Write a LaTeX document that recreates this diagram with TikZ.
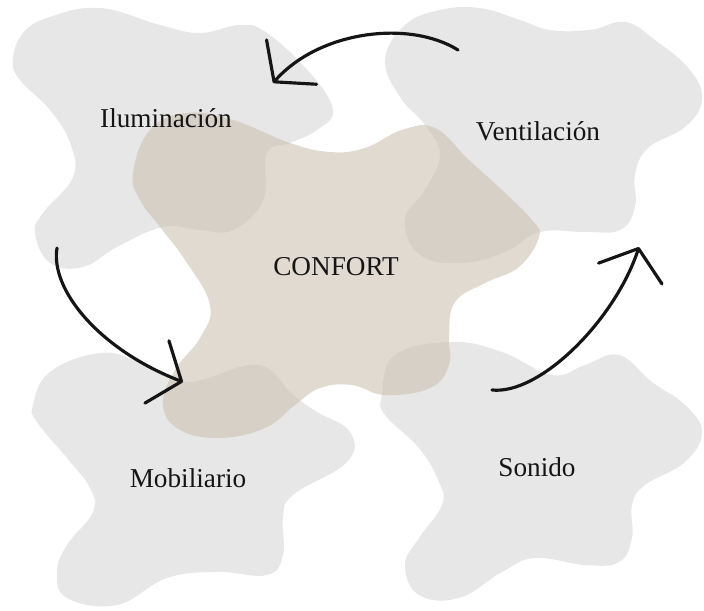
\documentclass[tikz,border=0pt]{standalone}
\usepackage{fontspec}
\setmainfont{Liberation Serif}
\usetikzlibrary{arrows.meta}
\definecolor[named]{BlobGrey}{HTML}{E7E7E7}
\definecolor[named]{BlobSand}{HTML}{CBC1B2}
\definecolor[named]{InkBlack}{HTML}{151515}
\tikzset{
  blob/.style={fill=BlobGrey, draw=none},
  core/.style={fill=BlobSand, fill opacity=0.6, draw=none},
  blobtext/.style={anchor=base, text=InkBlack, font=\fontsize{15.5}{18}\selectfont},
  sweep/.style={InkBlack, line width=1.8pt, line cap=round,
    -{Straight Barb[length=15pt,width=38pt,round]}},
}

\begin{document}
\begin{tikzpicture}[x=0.02cm,y=-0.02cm]
      \useasboundingbox (0,0) rectangle (704,611);
      % grey blobs
      \draw[blob] plot[smooth cycle, tension=0.7] coordinates {
        (13,60) (23,33) (50,17) (100,8) (160,25) (200,33) (240,25) (267,33)
        (310,73) (333,110) (317,130) (290,143) (267,153) (263,200) (233,230)
        (200,230) (163,227) (117,247) (83,267) (50,263) (35,233) (43,213)
        (73,177) (70,143) (50,110) (20,80)};
      \draw[blob] plot[smooth cycle, tension=0.7] coordinates {
        (385,60) (405,25) (440,10) (480,8) (520,20) (550,30) (590,30) (625,22)
        (655,40) (690,70) (702,100) (685,127) (648,148) (635,175) (635,207)
        (620,230) (585,232) (540,232) (505,252) (462,263) (420,255) (405,220)
        (425,190) (440,155) (425,125) (400,97)};
      \draw[blob] plot[smooth cycle, tension=0.7] coordinates {
        (33,405) (50,372) (100,353) (140,362) (187,382) (257,365) (293,395)
        (317,412) (350,432) (347,462) (293,495) (283,518) (283,555) (267,575)
        (217,572) (167,578) (117,605) (67,598) (57,572) (67,545) (93,512)
        (90,488) (67,458) (37,422)};
      \draw[blob] plot[smooth cycle, tension=0.7] coordinates {
        (382,395) (395,355) (452,342) (502,352) (552,375) (585,365) (619,355)
        (652,382) (685,405) (702,432) (685,462) (645,485) (632,505) (632,538)
        (619,562) (585,565) (535,558) (502,572) (459,598) (419,595) (405,565)
        (419,538) (442,505) (439,482) (419,448) (385,415)};
      % centre blob
      \draw[core] plot[smooth cycle, tension=0.7] coordinates {
        (133,173) (150,130) (187,113) (233,120) (290,143) (330,152) (365,148)
        (402,130) (435,128) (469,160) (502,190) (532,220) (539,237) (519,267)
        (485,283) (455,302) (449,335) (449,365) (430,388) (385,395) (352,385)
        (320,388) (295,405) (265,428) (220,438) (180,430) (163,405) (175,370)
        (200,338) (210,305) (185,260) (160,227) (140,200)};

      \node[blobtext] (ilum) at (166,128) {Iluminación};
      \node[blobtext] (vent) at (538,141) {Ventilación};
      \node[blobtext] (conf) at (336,276) {CONFORT};
      \node[blobtext] (mobi) at (188,488) {Mobiliario};
      \node[blobtext] (soni) at (537,477) {Sonido};

      \coordinate (topfrom) at (458,50);
      \coordinate (topto) at (273,83);
      \coordinate (leftfrom) at (57,248);
      \coordinate (leftto) at (183,382);
      \coordinate (rightfrom) at (492,390);
      \coordinate (rightto) at (639,247);
      \draw[sweep] (topfrom) .. controls (410,20) and (320,30) .. (topto);
      \draw[sweep] (leftfrom) .. controls (50,290) and (100,350) .. (leftto);
      \draw[sweep] (rightfrom) .. controls (540,395) and (615,320) .. (rightto);
    \end{tikzpicture}
\end{document}
